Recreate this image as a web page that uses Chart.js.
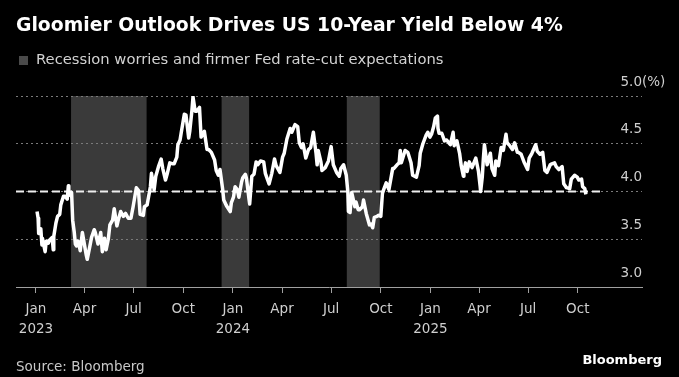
<!DOCTYPE html>
<html>
<head>
<meta charset="utf-8">
<script src="https://cdn.jsdelivr.net/npm/chart.js@4.4.1/dist/chart.umd.min.js"></script>
<style>
  html, body { margin: 0; padding: 0; background: #000; }
  #wrap { position: relative; width: 679px; height: 377px; overflow: hidden; background: #000; }
  #chart { position: absolute; left: 0; top: 0; }
  .txt { position: absolute; white-space: nowrap; line-height: 1; font-family: "DejaVu Sans", sans-serif; }
  #title { left: 16px; top: 16px; font-size: 18.8px; font-weight: bold; color: #fff; }
  #sub { left: 36px; top: 52px; font-size: 14.75px; color: #d2d2d2; }
  #swatch { position: absolute; left: 19px; top: 56px; width: 9px; height: 9px; background: #4a4a4a; }
  #source { left: 16px; top: 360px; font-size: 13.5px; color: #c8c8c8; }
  #logo { right: 17px; top: 353px; font-size: 13px; font-weight: bold; color: #fff; }
</style>
</head>
<body>
<div id="wrap">
  <canvas id="chart" width="679" height="377"></canvas>
  <div class="txt" id="title">Gloomier Outlook Drives US 10-Year Yield Below 4%</div>
  <div id="swatch"></div>
  <div class="txt" id="sub">Recession worries and firmer Fed rate-cut expectations</div>
  <div class="txt" id="source">Source: Bloomberg</div>
  <div class="txt" id="logo">Bloomberg</div>
</div>
<script>
// US 10-year Treasury yield (%)
var dates = [
  "2023-01-03","2023-01-05","2023-01-06","2023-01-10","2023-01-12","2023-01-13","2023-01-18","2023-01-20","2023-01-24","2023-01-26",
  "2023-01-31","2023-02-02","2023-02-03","2023-02-07","2023-02-10","2023-02-14","2023-02-16","2023-02-21","2023-02-24","2023-02-28",
  "2023-03-02","2023-03-03","2023-03-08","2023-03-10","2023-03-13","2023-03-15","2023-03-17","2023-03-20","2023-03-22","2023-03-24",
  "2023-03-28","2023-03-31","2023-04-04","2023-04-06","2023-04-11","2023-04-14","2023-04-19","2023-04-21","2023-04-26","2023-05-01",
  "2023-05-04","2023-05-08","2023-05-11","2023-05-15","2023-05-18","2023-05-23","2023-05-26","2023-05-31","2023-06-02","2023-06-07",
  "2023-06-12","2023-06-16","2023-06-21","2023-06-26","2023-06-30","2023-07-06","2023-07-10","2023-07-13","2023-07-19","2023-07-21",
  "2023-07-26","2023-08-01","2023-08-03","2023-08-08","2023-08-11","2023-08-16","2023-08-21","2023-08-24","2023-08-29","2023-09-01",
  "2023-09-06","2023-09-12","2023-09-14","2023-09-19","2023-09-21","2023-09-25","2023-09-27","2023-10-03","2023-10-06","2023-10-11",
  "2023-10-13","2023-10-17","2023-10-19","2023-10-23","2023-10-26","2023-10-31","2023-11-02","2023-11-03","2023-11-09","2023-11-14",
  "2023-11-17","2023-11-22","2023-11-28","2023-12-01","2023-12-05","2023-12-08","2023-12-13","2023-12-15","2023-12-20","2023-12-27",
  "2023-12-29","2024-01-02","2024-01-05","2024-01-09","2024-01-12","2024-01-17","2024-01-19","2024-01-24","2024-01-26","2024-01-31",
  "2024-02-01","2024-02-05","2024-02-09","2024-02-13","2024-02-16","2024-02-21","2024-02-27","2024-03-01","2024-03-06","2024-03-08",
  "2024-03-13","2024-03-18","2024-03-21","2024-03-28","2024-04-02","2024-04-05","2024-04-10","2024-04-16","2024-04-19","2024-04-25",
  "2024-04-30","2024-05-03","2024-05-07","2024-05-10","2024-05-15","2024-05-20","2024-05-24","2024-05-29","2024-06-03","2024-06-05",
  "2024-06-07","2024-06-12","2024-06-14","2024-06-20","2024-06-26","2024-07-01","2024-07-05","2024-07-11","2024-07-16","2024-07-19",
  "2024-07-24","2024-07-29","2024-08-01","2024-08-02","2024-08-05","2024-08-08","2024-08-14","2024-08-16","2024-08-20","2024-08-23",
  "2024-08-28","2024-08-30","2024-09-04","2024-09-10","2024-09-13","2024-09-16","2024-09-19","2024-09-24","2024-09-27","2024-10-01",
  "2024-10-04","2024-10-07","2024-10-11","2024-10-16","2024-10-23","2024-10-25","2024-10-31","2024-11-04","2024-11-06","2024-11-08",
  "2024-11-15","2024-11-20","2024-11-26","2024-11-29","2024-12-06","2024-12-11","2024-12-13","2024-12-18","2024-12-24","2024-12-27",
  "2024-12-31","2025-01-03","2025-01-07","2025-01-10","2025-01-14","2025-01-15","2025-01-17","2025-01-22","2025-01-27","2025-01-31",
  "2025-02-04","2025-02-07","2025-02-12","2025-02-14","2025-02-19","2025-02-24","2025-02-27","2025-03-03","2025-03-04","2025-03-07",
  "2025-03-10","2025-03-14","2025-03-19","2025-03-26","2025-03-31","2025-04-03","2025-04-04","2025-04-07","2025-04-09","2025-04-11",
  "2025-04-16","2025-04-22","2025-04-25","2025-04-30","2025-05-02","2025-05-07","2025-05-12","2025-05-16","2025-05-21","2025-05-23",
  "2025-05-28","2025-06-02","2025-06-06","2025-06-11","2025-06-13","2025-06-18","2025-06-24","2025-06-30","2025-07-03","2025-07-08",
  "2025-07-15","2025-07-18","2025-07-23","2025-07-28","2025-08-01","2025-08-05","2025-08-11","2025-08-14","2025-08-19","2025-08-22",
  "2025-08-27","2025-09-02","2025-09-05","2025-09-10","2025-09-16","2025-09-19","2025-09-25","2025-09-30","2025-10-03","2025-10-08",
  "2025-10-10","2025-10-14","2025-10-16"
];
var yields = [
  3.79,3.72,3.56,3.61,3.44,3.51,3.37,3.48,3.46,3.49,
  3.52,3.39,3.53,3.67,3.74,3.76,3.86,3.95,3.95,3.92,
  4.06,3.96,3.99,3.70,3.57,3.45,3.43,3.48,3.44,3.38,
  3.57,3.47,3.34,3.29,3.43,3.52,3.60,3.57,3.45,3.57,
  3.37,3.51,3.39,3.50,3.65,3.70,3.82,3.64,3.69,3.79,
  3.74,3.77,3.72,3.72,3.84,4.04,4.01,3.76,3.75,3.84,
  3.86,4.05,4.19,4.02,4.16,4.26,4.34,4.24,4.12,4.18,
  4.30,4.29,4.29,4.36,4.49,4.54,4.61,4.81,4.80,4.56,
  4.63,4.85,4.99,4.84,4.84,4.88,4.67,4.57,4.63,4.44,
  4.44,4.41,4.33,4.22,4.17,4.23,4.02,3.91,3.85,3.79,
  3.88,3.94,4.05,4.02,3.94,4.10,4.14,4.18,4.14,3.91,
  3.87,4.16,4.18,4.31,4.28,4.32,4.31,4.19,4.11,4.08,
  4.19,4.34,4.27,4.20,4.36,4.40,4.55,4.66,4.62,4.70,
  4.68,4.51,4.46,4.50,4.35,4.44,4.46,4.62,4.40,4.28,
  4.43,4.31,4.22,4.25,4.32,4.47,4.28,4.20,4.16,4.24,
  4.28,4.17,3.99,3.79,3.78,3.99,3.84,3.89,3.81,3.81,
  3.84,3.91,3.77,3.65,3.66,3.62,3.73,3.74,3.75,3.74,
  3.98,4.03,4.09,4.02,4.24,4.24,4.28,4.30,4.43,4.30,
  4.43,4.41,4.30,4.17,4.15,4.27,4.40,4.50,4.59,4.62,
  4.57,4.60,4.68,4.77,4.79,4.66,4.61,4.61,4.53,4.54,
  4.51,4.49,4.62,4.48,4.53,4.40,4.27,4.16,4.21,4.30,
  4.21,4.31,4.25,4.35,4.21,4.06,4.00,4.15,4.34,4.49,
  4.28,4.40,4.24,4.17,4.32,4.27,4.46,4.43,4.60,4.51,
  4.48,4.44,4.51,4.41,4.41,4.39,4.30,4.23,4.35,4.40,
  4.49,4.42,4.39,4.41,4.22,4.20,4.28,4.29,4.30,4.26,
  4.23,4.26,4.08,4.04,4.03,4.13,4.17,4.15,4.12,4.13,
  4.05,4.03,3.97
];

// shaded periods: recession worries and firmer rate-cut expectations
var bandStarts = ["2023-03-07", "2023-12-11", "2024-07-30"];
var bandEnds = ["2023-07-25", "2024-01-31", "2024-09-29"];

// dashed reference level
var refLevel = 4.0;
var refStart = "2022-11-25";
var refEnd = "2025-11-17";

var xTickDates = ["2023-01-01","2023-04-01","2023-07-01","2023-10-01","2024-01-01","2024-04-01",
                  "2024-07-01","2024-10-01","2025-01-01","2025-04-01","2025-07-01","2025-10-01"];
var xTickLabels = [["Jan","2023"],"Apr","Jul","Oct",["Jan","2024"],"Apr","Jul","Oct",["Jan","2025"],"Apr","Jul","Oct"];
var yTicks = [3.0, 3.5, 4.0, 4.5, 5.0];

var xMinDate = "2022-11-25";
var xMaxDate = "2026-01-28";

function dayNum(s) {
  var p = s.split("-");
  return (Date.UTC(+p[0], +p[1] - 1, +p[2]) - Date.UTC(2023, 0, 1)) / 86400000;
}

var tickFont = { family: "DejaVu Sans", size: 13.5 };
var tickColor = "#cfcfcf";

var bandPlugin = {
  id: "bands",
  beforeDraw: function (chart) {
    var ctx = chart.ctx, x = chart.scales.x, area = chart.chartArea;
    ctx.save();
    ctx.fillStyle = "#3a3a3a";
    for (var i = 0; i < bandStarts.length; i++) {
      var x0 = x.getPixelForValue(dayNum(bandStarts[i]));
      var x1 = x.getPixelForValue(dayNum(bandEnds[i]));
      ctx.fillRect(x0, area.top, x1 - x0, area.bottom - area.top);
    }
    ctx.restore();
  },
  afterDraw: function (chart) {
    // unit after the top tick label
    var ctx = chart.ctx, y = chart.scales.y;
    ctx.save();
    ctx.font = tickFont.size + "px " + tickFont.family;
    ctx.fillStyle = tickColor;
    ctx.textAlign = "left";
    ctx.textBaseline = "middle";
    ctx.fillText("(%)", chart.chartArea.right, y.getPixelForValue(5.0) - 14);
    ctx.restore();
  }
};

var points = dates.map(function (d, i) { return { x: dayNum(d), y: yields[i] }; });

new Chart(document.getElementById("chart").getContext("2d"), {
  type: "line",
  data: {
    datasets: [
      {
        data: points,
        borderColor: "#ffffff",
        borderWidth: 3.5,
        pointRadius: 0,
        tension: 0,
        borderJoinStyle: "round"
      },
      {
        data: [{ x: dayNum(refStart), y: refLevel }, { x: dayNum(refEnd), y: refLevel }],
        borderColor: "#eeeeee",
        borderWidth: 2,
        borderDash: [8, 4],
        pointRadius: 0
      }
    ]
  },
  options: {
    responsive: false,
    animation: false,
    events: [],
    layout: { padding: { left: 16, right: 37, top: 96, bottom: 0 } },
    plugins: { legend: { display: false }, tooltip: { enabled: false } },
    scales: {
      x: {
        type: "linear",
        min: dayNum(xMinDate),
        max: dayNum(xMaxDate),
        afterBuildTicks: function (s) {
          s.ticks = xTickDates.map(function (d) { return { value: dayNum(d) }; });
        },
        afterFit: function (s) { s.height = 90; },
        grid: { drawOnChartArea: false, drawTicks: true, tickLength: 6, color: "#a0a0a0" },
        border: { display: true, color: "#a0a0a0", width: 1 },
        ticks: {
          autoSkip: false,
          maxRotation: 0,
          padding: 7,
          color: tickColor,
          font: { family: tickFont.family, size: tickFont.size, lineHeight: 1.48 },
          callback: function (v, i) { return xTickLabels[i]; }
        }
      },
      y: {
        position: "right",
        min: 3.0,
        max: 5.0,
        afterBuildTicks: function (s) {
          s.ticks = yTicks.map(function (v) { return { value: v }; });
        },
        afterFit: function (s) { s.width = 0; },
        grid: { drawTicks: false, color: "#7a7a7a", lineWidth: 1 },
        border: { display: false, dash: [2, 3] },
        ticks: {
          mirror: true,
          padding: 0,
          labelOffset: -14,
          color: tickColor,
          font: tickFont,
          callback: function (v) { return v.toFixed(1); }
        }
      }
    }
  },
  plugins: [bandPlugin]
});
</script>
</body>
</html>
